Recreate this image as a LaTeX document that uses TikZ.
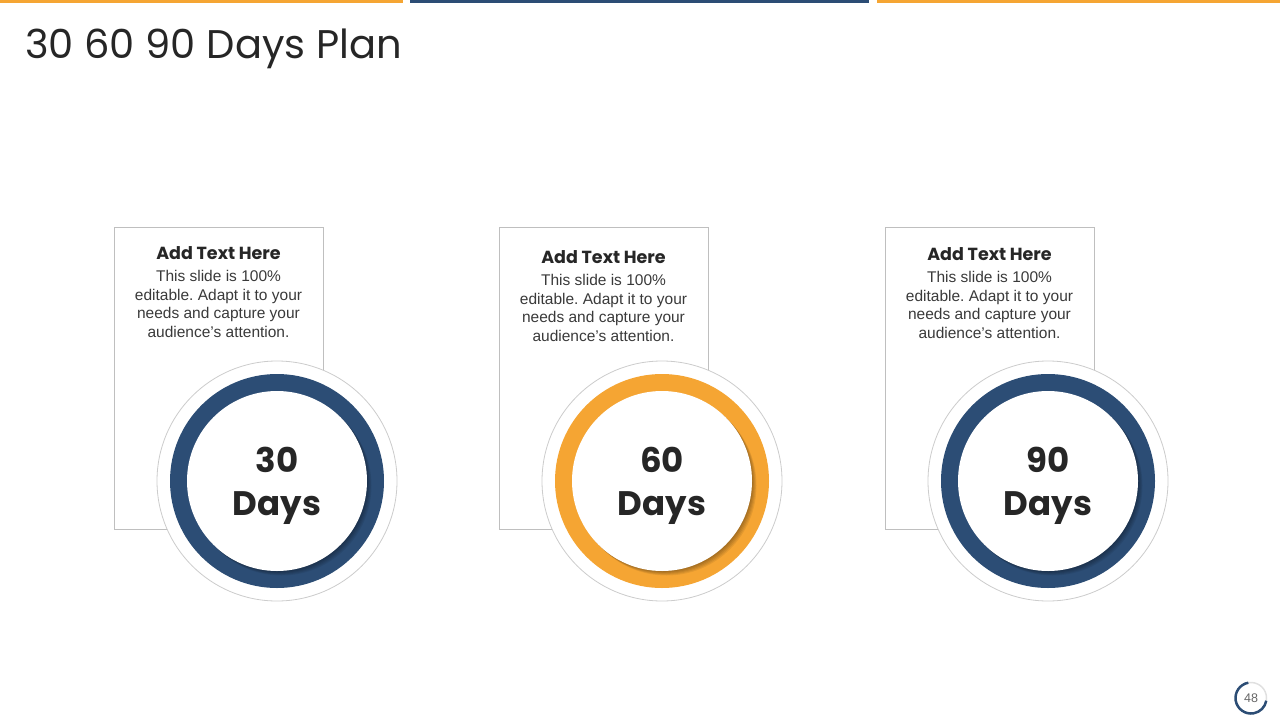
\documentclass[tikz,border=0pt]{standalone}
\usepackage{fontspec}
\setmainfont[Ligatures=NoCommon]{Liberation Sans}
\newfontfamily\headfont{Poppins}
\definecolor{orng}{HTML}{F5A533}
\definecolor{navy}{HTML}{2C4D75}
\definecolor{boxline}{HTML}{BFBFBF}
\definecolor{txt}{HTML}{262626}
\definecolor{body}{HTML}{3A3A3A}
\tikzset{
  textbox/.style={draw=boxline, line width=0.8pt, fill=white, minimum width=209pt, minimum height=302pt, anchor=north west, inner sep=0pt},
  halo/.style={circle, draw=boxline!80, line width=0.8pt, fill=white, minimum size=240pt, inner sep=0pt},
  ring/.style={circle, fill=#1, minimum size=214pt, inner sep=0pt},
  disc/.style={circle, fill=white, minimum size=180pt, inner sep=0pt},
  heading/.style={font=\headfont\bfseries\fontsize{17.5}{20}\selectfont, text=txt},
  bodytext/.style={font=\frenchspacing\fontsize{15.5}{18.6}\selectfont, text=body, align=center},
  bignum/.style={font=\headfont\bfseries\fontsize{34}{44}\selectfont, text=txt, align=center},
  topbar/.style={line width=3pt}
}
\begin{document}
\begin{tikzpicture}[x=1pt,y=-1pt]
\useasboundingbox (0,0) rectangle (1280,720);
% top bars
\coordinate (b1s) at (0,1.5); \coordinate (b1e) at (403,1.5);
\coordinate (b2s) at (410,1.5); \coordinate (b2e) at (869,1.5);
\coordinate (b3s) at (877,1.5); \coordinate (b3e) at (1280,1.5);
\draw[topbar, orng] (b1s) -- (b1e);
\draw[topbar, navy] (b2s) -- (b2e);
\draw[topbar, orng] (b3s) -- (b3e);
% title
\node[anchor=west, font=\headfont\fontsize{40}{46}\selectfont, text=txt, inner sep=0pt] (title) at (25,49) {30 60 90 Days Plan};
% boxes
\foreach \i/\x/\hy/\by/\col/\num in {1/114/253/277/navy/30, 2/499/257/281/orng/60, 3/885/254/278/navy/90}{
  \node[textbox] (box\i) at (\x,227) {};
  \node[heading] (head\i) at (\x+104.5,\hy) {Add Text Here};
  \node[bodytext, anchor=north] (body\i) at (\x+104.5,\by-10) {This slide is 100\%\\editable. Adapt it to your\\needs and capture your\\audience\symbol{"27}s attention.};
  \node[halo] (halo\i) at (\x+163,481) {};
  \node[ring=\col] (ring\i) at (\x+163,481) {};
  \begin{scope}
    \clip (\x+163,481) circle (107pt);
    \foreach \k in {1,...,5}{
      \fill[black, opacity=0.07] (\x+163+\k*0.9,481+\k*0.9) circle (90pt);
    }
  \end{scope}
  \node[disc] (disc\i) at (\x+163,481) {};
  \node[bignum] (num\i) at (\x+163,486) {\num\\[-1pt]Days};
}
% page number
\node[circle, draw=black!12, line width=1.5pt, minimum size=31pt, inner sep=0pt] (pg) at (1251,698) {};
\draw[navy, line width=2.5pt] (pg.center) ++(100:15.5pt) arc[start angle=100, end angle=350, radius=15.5pt];
\node[font=\fontsize{12.5}{14}\selectfont, text=black!60] (pgnum) at (pg.center) {48};
\end{tikzpicture}
\end{document}
